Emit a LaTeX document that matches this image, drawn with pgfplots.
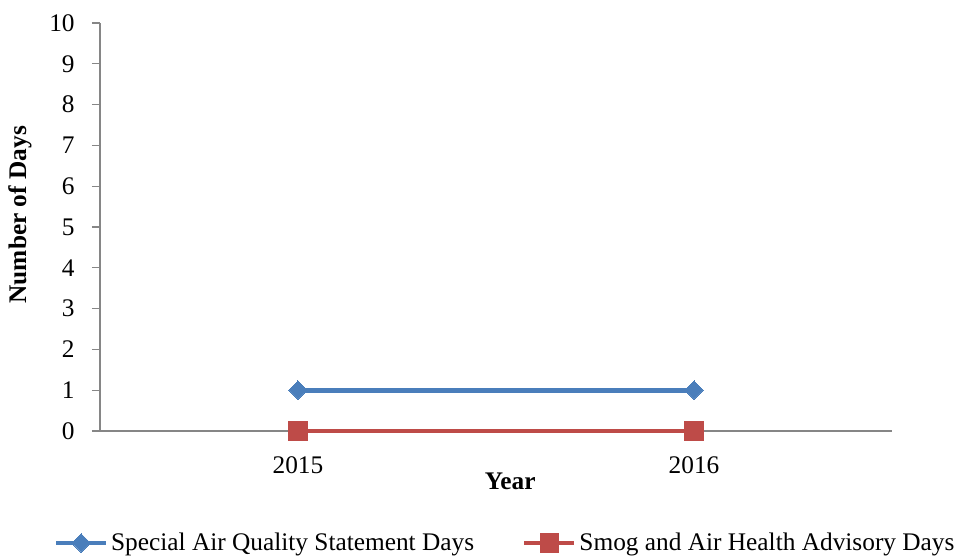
\documentclass[border=0pt]{standalone}
\usepackage{pgfplots}
\pgfplotsset{compat=1.18}
\usepackage{fontspec}
\setmainfont{Liberation Serif}
\definecolor{lblue}{HTML}{4A7EBB}
\definecolor{lred}{HTML}{BE4B48}
\definecolor{axgray}{HTML}{868686}
\begin{document}
\begin{tikzpicture}[x=0.75pt,y=0.75pt]
\path[use as bounding box] (0,0) rectangle (961,560);
\begin{axis}[
  at={(100pt*0.75,129pt*0.75)}, anchor=south west,
  scale only axis, width=594pt, height=306pt,
  xmin=-0.5, xmax=1.5, ymin=0, ymax=10,
  axis x line*=bottom, axis y line*=left,
  axis line style={draw=axgray, line width=1pt},
  every tick/.style={draw=axgray, line width=1pt},
  tick align=outside,
  major tick length=6pt,
  ytick={0,1,...,10},
  xtick={0,1}, xticklabels={2015,2016},
  x tick style={draw=none},
  extra x ticks={-0.5,0.5,1.5}, extra x tick labels={},
  extra x tick style={tick style={draw=axgray, line width=1pt}, major tick length=6pt},
  /pgf/number format/assume math mode=true,
  tick label style={font=\fontsize{19}{23}\selectfont},
  yticklabel style={xshift=-9.5pt},
  xticklabel style={yshift=-10pt},
  ylabel={\textbf{Number of Days}},
  ylabel style={font=\fontsize{19}{23}\selectfont, at={(axis description cs:-0.101,0.53)}, anchor=center, rotate=0},
  xlabel={\textbf{Year}},
  xlabel style={font=\fontsize{19}{23}\selectfont, at={(rel axis cs:0.518,0)}, anchor=center, yshift=-37.5pt},
  clip=false,
  legend columns=2,
  legend style={draw=none, fill=none, at={(rel axis cs:0.512,0)}, anchor=center, yshift=-84pt,
    font=\fontsize{19}{23}\selectfont, inner sep=0pt,
    /tikz/every even column/.append style={column sep=34pt}},
  legend image code/.code={
    \draw[#1, mark repeat=2, mark phase=2] plot coordinates {(0pt,0pt) (18.75pt,0pt) (37.5pt,0pt)};
  },
]
\addplot[color=lblue, line width=3.5pt, mark=square*, mark size=4.9pt, mark options={solid, rotate=45, line width=0pt, fill=lblue}]
  coordinates {(0,1) (1,1)};
\addlegendentry{Special Air Quality Statement Days}
\addplot[color=lred, line width=3.5pt, mark=square*, mark size=7pt, mark options={solid, line width=0pt, fill=lred}]
  coordinates {(0,0) (1,0)};
\addlegendentry{Smog and Air Health Advisory Days}
\end{axis}
\end{tikzpicture}
\end{document}
